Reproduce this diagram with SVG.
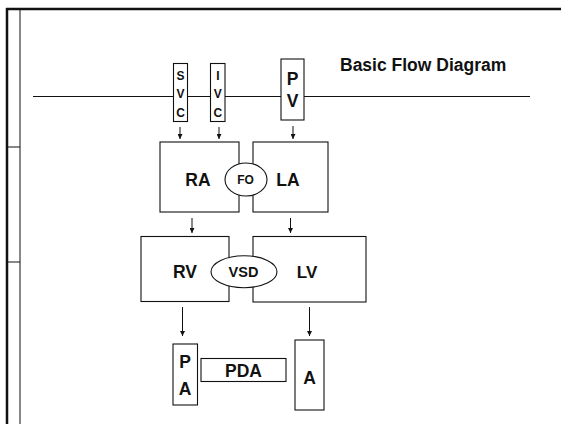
<svg xmlns="http://www.w3.org/2000/svg" width="561" height="424" viewBox="0 0 561 424">
<style>
.b{fill:#fff;stroke:#111;stroke-width:1.1}
.t{font-family:"Liberation Sans",Arial,sans-serif;font-weight:bold;fill:#111;text-anchor:middle}
.ln{stroke:#111;stroke-width:1;fill:none}
</style>
<defs>
<marker id="ah" viewBox="0 0 10 10" refX="10" refY="5" markerWidth="5" markerHeight="5" orient="auto" markerUnits="userSpaceOnUse">
<path d="M0,0 L10,5 L0,10 Z" fill="#111"/>
</marker>
</defs>
<rect width="561" height="424" fill="#fff"/>
<g id="frame">
<line x1="6" y1="9" x2="561" y2="9" stroke="#111" stroke-width="2.5"/>
<line x1="7" y1="8" x2="7" y2="424" stroke="#111" stroke-width="2.5"/>
<line x1="20" y1="9" x2="20" y2="424" class="ln"/>
<line x1="7" y1="147" x2="20" y2="147" class="ln"/>
<line x1="7" y1="262" x2="20" y2="262" class="ln"/>
<line x1="33" y1="96.5" x2="530" y2="96.5" class="ln"/>
</g>
<g id="connectors" class="ln">
<line x1="180" y1="127" x2="180" y2="139" marker-end="url(#ah)"/>
<line x1="219" y1="127" x2="219" y2="139" marker-end="url(#ah)"/>
<line x1="293" y1="126" x2="293" y2="139" marker-end="url(#ah)"/>
<line x1="192" y1="218" x2="192" y2="233" marker-end="url(#ah)"/>
<line x1="290.5" y1="218" x2="290.5" y2="233" marker-end="url(#ah)"/>
<line x1="182.5" y1="307" x2="182.5" y2="336" marker-end="url(#ah)"/>
<line x1="309.5" y1="307" x2="309.5" y2="336" marker-end="url(#ah)"/>
</g>
<text class="t" x="340" y="71" font-size="17.5" style="text-anchor:start">Basic Flow Diagram</text>
<g id="SVC"><rect class="b" x="173.5" y="63.5" width="14" height="58"/>
<text class="t" font-size="12" x="180.5" y="79.5">S</text><text class="t" font-size="12" x="180.5" y="97.5">V</text><text class="t" font-size="12" x="180.5" y="116.5">C</text></g>
<g id="IVC"><rect class="b" x="210.5" y="63.5" width="14.5" height="58"/>
<text class="t" font-size="12" x="217.8" y="79.5">I</text><text class="t" font-size="12" x="217.8" y="97.5">V</text><text class="t" font-size="12" x="217.8" y="116.5">C</text></g>
<g id="PV"><rect class="b" x="281" y="59" width="23" height="61"/>
<text class="t" font-size="17.5" x="292.5" y="84.5">P</text><text class="t" font-size="17.5" x="292.5" y="106.5">V</text></g>
<g id="RA"><rect class="b" x="160" y="142" width="79" height="70"/><text class="t" font-size="17.5" x="198" y="186">RA</text></g>
<g id="LA"><rect class="b" x="253" y="142" width="75" height="70"/><text class="t" font-size="17.5" x="288" y="186">LA</text></g>
<g id="FO"><ellipse class="b" cx="246" cy="179.5" rx="21" ry="16.5"/><text class="t" font-size="12" x="245.5" y="183.5">FO</text></g>
<g id="RV"><rect class="b" x="141" y="236.5" width="88" height="65"/><text class="t" font-size="17.5" x="185" y="278">RV</text></g>
<g id="LV"><rect class="b" x="253" y="236.5" width="113" height="65.5"/><text class="t" font-size="17" x="307" y="278">LV</text></g>
<g id="VSD"><ellipse class="b" cx="244" cy="271.7" rx="33" ry="16"/><text class="t" font-size="14.5" x="243.5" y="277">VSD</text></g>
<g id="PA"><rect class="b" x="173" y="344" width="24.5" height="61"/>
<text class="t" font-size="17.5" x="185" y="368">P</text><text class="t" font-size="17.5" x="185" y="394.5">A</text></g>
<g id="PDA"><rect class="b" x="201" y="358.5" width="85" height="23"/><text class="t" font-size="17.5" x="243.5" y="376.5">PDA</text></g>
<g id="A"><rect class="b" x="295" y="340" width="29" height="70"/><text class="t" font-size="17.5" x="309.5" y="384">A</text></g>
</svg>
